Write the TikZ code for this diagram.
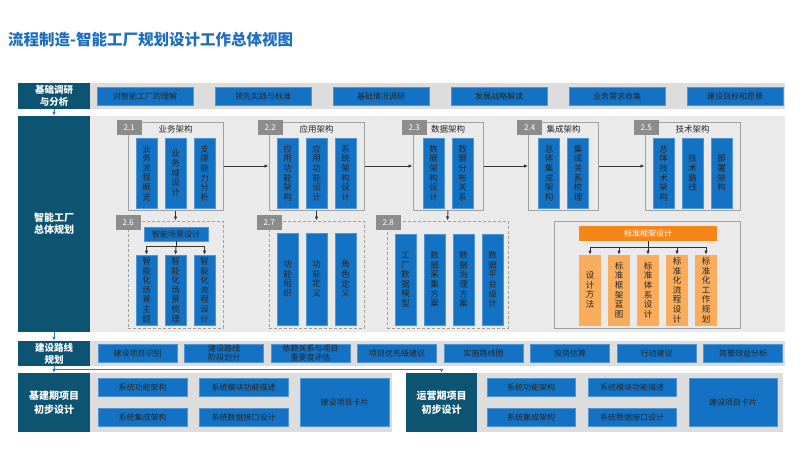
\documentclass[tikz,border=0pt]{standalone}
\usepackage{fontspec}
\setmainfont{Noto Sans CJK SC}
\XeTeXlinebreaklocale "zh"
\XeTeXlinebreakskip=0pt plus 1pt
\usepackage{xcolor}
\usetikzlibrary{arrows.meta, positioning, calc}
\definecolor{titleblue}{RGB}{28,110,190}
\definecolor{stagenavy}{RGB}{12,84,114}
\definecolor{itemblue}{RGB}{20,114,196}
\definecolor{linkblue}{RGB}{40,120,200}
\definecolor{bandgray}{RGB}{221,221,221}
\definecolor{panegray}{RGB}{234,234,234}
\definecolor{tabgray}{RGB}{140,140,140}
\definecolor{framegray}{RGB}{160,160,160}
\definecolor{stdorange}{RGB}{247,134,26}
\definecolor{lightorange}{RGB}{248,172,92}
\tikzset{
  stagebox/.style={
    rectangle, fill=stagenavy, text=white, align=center, inner sep=0pt,
    font=\fontsize{9.5}{12}\selectfont\bfseries, minimum width=72pt
  },
  band/.style={rectangle, fill=bandgray, inner sep=0pt},
  itembox/.style={
    rectangle, fill=itemblue, draw=itemblue!75!white, line width=0.6pt,
    text=black!85, align=center, inner sep=0pt, minimum height=18pt,
    font=\fontsize{8}{8.5}\selectfont
  },
  groupframe/.style={rectangle, draw=framegray, line width=1pt, inner sep=0pt},
  dashframe/.style={groupframe, dash pattern=on 3pt off 2pt},
  numtab/.style={
    rectangle, fill=tabgray, text=white, anchor=north west, inner sep=0pt,
    minimum width=25pt, minimum height=15pt, font=\fontsize{8}{9}\selectfont
  },
  grouptitle/.style={inner sep=0pt, text=black!85, font=\fontsize{8.5}{10}\selectfont},
  vbar/.style={
    rectangle, fill=itemblue, draw=itemblue!75!white, line width=0.6pt,
    minimum width=21pt, text width=9pt, align=center, inner sep=0pt,
    text=black!85, font=\fontsize{8.5}{9.6}\selectfont
  },
  obar/.style={vbar, fill=lightorange, draw=lightorange},
  flowarrow/.style={-{Latex[length=4pt,width=3.5pt]}, line width=0.9pt, draw=black!80},
  treeline/.style={line width=0.9pt, draw=black!85},
  bluearrow/.style={-{Latex[length=4pt,width=3.5pt]}, line width=0.9pt, draw=linkblue}
}
\begin{document}
\begin{tikzpicture}[x=1pt, y=-1pt]
  \fill[white] (0,0) rectangle (800,450);
  \useasboundingbox (0,0) rectangle (800,450);

  % ── Title ─────────────────────────────────────────────────────────
  \node[anchor=base west, inner sep=0pt, text=titleblue,
        font=\fontsize{15.5}{18}\selectfont\bfseries] (title)
    at (8,45) {流程制造-智能工厂规划设计工作总体视图};

  % ── Stage 1: 基础调研与分析 ───────────────────────────────────────
  \node[band, minimum width=695pt, minimum height=26pt] (band1) at (437.5,96) {};
  \node[stagebox, minimum height=26pt] (lab1) at (54,96) {基础调研\\与分析};
  \foreach \t [count=\i] in {对智能工厂的理解, 领先实践与标准, 基础情况调研,
                             发展战略解读, 业务需求收集, 建设目标和愿景}
    \node[itembox, minimum width=96pt] (r1-\i) at ({145+118*(\i-1)},96) {\t};

  % ── Stage 2: 智能工厂总体规划 ─────────────────────────────────────
  \node[band, fill=panegray, minimum width=695pt, minimum height=216pt] (band2) at (437.5,224) {};
  \node[stagebox, minimum height=216pt,
        font=\fontsize{10}{12}\selectfont\bfseries] (lab2) at (54,224) {智能工厂\\总体规划};

  % upper groups 2.1 - 2.5
  \node[groupframe, minimum width=95pt, minimum height=88pt] (g21) at (175.5,166) {};
  \node[groupframe, minimum width=95pt, minimum height=88pt] (g22) at (316.5,166) {};
  \node[groupframe, minimum width=70pt, minimum height=88pt] (g23) at (448,166) {};
  \node[groupframe, minimum width=70pt, minimum height=88pt] (g24) at (563.5,166) {};
  \node[groupframe, minimum width=95pt, minimum height=88pt] (g25) at (692.5,166) {};
  \node[numtab] (t21) at ($(g21.north west)+(-11,-2)$) {2.1};
  \node[numtab] (t22) at ($(g22.north west)+(-11,-2)$) {2.2};
  \node[numtab] (t23) at ($(g23.north west)+(-11,-2)$) {2.3};
  \node[numtab] (t24) at ($(g24.north west)+(-11,-2)$) {2.4};
  \node[numtab] (t25) at ($(g25.north west)+(-11,-2)$) {2.5};
  \node[grouptitle] (h21) at ($(g21.north)+(0,8)$) {业务架构};
  \node[grouptitle] (h22) at ($(g22.north)+(0,8)$) {应用架构};
  \node[grouptitle] (h23) at ($(g23.north)+(0,8)$) {数据架构};
  \node[grouptitle] (h24) at ($(g24.north)+(0,8)$) {集成架构};
  \node[grouptitle] (h25) at ($(g25.north)+(0,8)$) {技术架构};

  \foreach \t [count=\i] in {业务流程概览, 业务域设计, 支撑能力分析}
    \node[vbar, minimum height=70pt] (b21-\i) at ({175.5+29*(\i-2)},173) {\t};
  \foreach \t [count=\i] in {应用功能架构, 应用功能设计, 系统架构设计}
    \node[vbar, minimum height=70pt] (b22-\i) at ({316.5+29*(\i-2)},173) {\t};
  \foreach \t [count=\i] in {数据架构设计, 数据分布关系}
    \node[vbar, minimum height=70pt] (b23-\i) at ({448+29*(\i-1.5)},173) {\t};
  \foreach \t [count=\i] in {总体集成架构, 集成关系梳理}
    \node[vbar, minimum height=70pt] (b24-\i) at ({563.5+29*(\i-1.5)},173) {\t};
  \foreach \t [count=\i] in {总体技术架构, 技术路线, 部署架构}
    \node[vbar, minimum height=70pt] (b25-\i) at ({692.5+29*(\i-2)},173) {\t};

  % lower groups 2.6 - 2.8 and standard frame
  \node[dashframe, minimum width=95pt, minimum height=107pt] (g26) at (175.5,274.5) {};
  \node[dashframe, minimum width=95pt, minimum height=107pt] (g27) at (316.5,274.5) {};
  \node[dashframe, minimum width=121pt, minimum height=107pt] (g28) at (447.5,274.5) {};
  \node[groupframe, minimum width=186pt, minimum height=107pt] (gstd) at (647,274.5) {};
  \node[numtab] (t26) at ($(g26.north west)+(-12,-6)$) {2.6};
  \node[numtab] (t27) at ($(g27.north west)+(-12,-6)$) {2.7};
  \node[numtab] (t28) at ($(g28.north west)+(-11,-6)$) {2.8};

  \node[itembox, minimum width=64pt, minimum height=14pt] (s26) at (176,234) {智能场景设计};
  \foreach \t [count=\i] in {智能化场景主题, 智能化场景梳理, 智能化流程设计}
    \node[vbar, minimum height=70pt] (b26-\i) at ({175.5+29*(\i-2)},290) {\t};
  \foreach \t [count=\i] in {功能组织, 功能定义, 角色定义}
    \node[vbar, minimum height=92pt] (b27-\i) at ({316.5+29*(\i-2)},279) {\t};
  \foreach \t [count=\i] in {工厂数据模型, 数据采集方案, 数据治理方案, 数据平台设计}
    \node[vbar, minimum height=91pt] (b28-\i) at ({449+29*(\i-2.5)},279.5) {\t};

  \node[rectangle, fill=stdorange, text=white, inner sep=0pt,
        minimum width=138pt, minimum height=15pt,
        font=\fontsize{8}{9}\selectfont] (ostd) at (648,233.5) {标准框架设计};
  \foreach \t [count=\i] in {设计方法, 标准框架蓝图, 标准体系设计, 标准化流程设计, 标准化工作规划}
    \node[obar, minimum height=70pt] (bstd-\i) at ({590+29*(\i-1)},290) {\t};

  % ── Connections inside stage 2 ────────────────────────────────────
  \draw[flowarrow] (g21.east) -- (g22.west);
  \draw[flowarrow] (g22.east) -- (g23.west);
  \draw[flowarrow] (g23.east) -- (g24.west);
  \draw[flowarrow] (g24.east) -- (g25.west);
  \draw[flowarrow] (g21.south) -- (g26.north);
  \draw[flowarrow] (g22.south) -- (g27.north);
  \draw[flowarrow] (g23.south) -- (g28.north);

  \coordinate (j26) at ($(s26.south)+(0,5)$);
  \draw[treeline] (s26.south) -- (j26);
  \draw[flowarrow] (j26) -| (b26-1.north);
  \draw[flowarrow] (j26) -- (b26-2.north);
  \draw[flowarrow] (j26) -| (b26-3.north);

  \coordinate (jstd) at ($(ostd.south)+(0,6)$);
  \draw[treeline] (ostd.south) -- (jstd);
  \foreach \i in {1,...,5}
    \draw[flowarrow] (jstd) -| (bstd-\i.north);

  % ── Stage 3: 建设路线规划 ─────────────────────────────────────────
  \node[band, minimum width=695pt, minimum height=25pt] (band3) at (437.5,353.5) {};
  \node[stagebox, minimum height=25pt] (lab3) at (54,353.5) {建设路线\\规划};
  \foreach \t [count=\i] in {建设项目识别, 建设路线\\阶段划分, 依赖关系与项目\\重要度评估,
                             项目优先级建议, 实施路线图, 投资估算, 行动建议, 简要效益分析}
    \node[itembox, minimum width=79pt] (r3-\i) at ({137.5+86.5*(\i-1)},353) {\t};

  % ── Stage 4: 项目初步设计 ─────────────────────────────────────────
  \node[band, minimum width=302pt, minimum height=59pt] (band4a) at (241,402.5) {};
  \node[stagebox, minimum height=59pt,
        font=\fontsize{10}{14}\selectfont\bfseries] (lab4a) at (54,402.5) {基建期项目\\初步设计};
  \node[itembox, minimum width=89pt] (p1-1) at (142.5,387) {系统功能架构};
  \node[itembox, minimum width=89pt] (p1-2) at (142.5,417) {系统集成架构};
  \node[itembox, minimum width=89pt] (p1-3) at (243.5,387) {系统模块功能描述};
  \node[itembox, minimum width=89pt] (p1-4) at (243.5,417) {系统数据接口设计};
  \node[itembox, minimum width=89pt, minimum height=48pt] (card1) at (344.5,402) {建设项目卡片};

  \node[band, minimum width=306pt, minimum height=59pt] (band4b) at (630,402.5) {};
  \node[stagebox, minimum width=71pt, minimum height=59pt,
        font=\fontsize{10}{14}\selectfont\bfseries] (lab4b) at (441.5,402.5) {运营期项目\\初步设计};
  \node[itembox, minimum width=88pt] (p2-1) at (531,387) {系统功能架构};
  \node[itembox, minimum width=88pt] (p2-2) at (531,417) {系统集成架构};
  \node[itembox, minimum width=88pt] (p2-3) at (632,387) {系统模块功能描述};
  \node[itembox, minimum width=88pt] (p2-4) at (632,417) {系统数据接口设计};
  \node[itembox, minimum width=88pt, minimum height=48pt] (card2) at (733,402) {建设项目卡片};

  % ── Stage links ───────────────────────────────────────────────────
  \draw[bluearrow] (lab1.south) -- (lab2.north);
  \draw[bluearrow] (lab2.south) -- (lab3.north);
  \draw[bluearrow] (lab3.south) -- (lab4a.north);
  \coordinate (split) at ($(lab3.south)+(0,3)$);
  \draw[bluearrow] (split) -| (lab4b.north);
\end{tikzpicture}
\end{document}
